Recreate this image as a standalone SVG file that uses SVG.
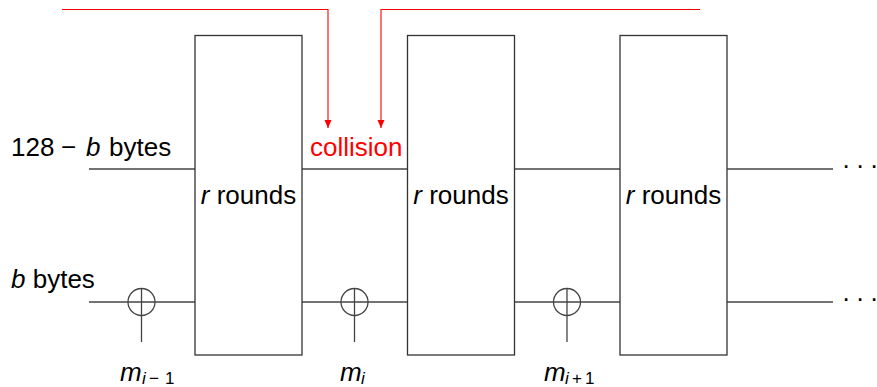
<svg xmlns="http://www.w3.org/2000/svg" width="877" height="387" viewBox="0 0 877 387">
<defs>
<style>
.ln{stroke:#444;stroke-width:1.3;fill:none}
.box{stroke:#333;stroke-width:1.3;fill:#fff}
.red{stroke:#f00;stroke-width:1.1;fill:none}
text{font-family:"Liberation Sans",Arial,sans-serif;font-size:26px;fill:#000}
.it{font-style:italic}
.sub{font-size:17px}
.rt{fill:#f00}
</style>
<marker id="ah" viewBox="0 0 8 10" refX="8" refY="5" markerWidth="8" markerHeight="10" markerUnits="userSpaceOnUse" orient="auto">
<path d="M0,1.5 L8,5 L0,8.5 z" fill="#f00"/>
</marker>
</defs>
<g id="connectors">
<line class="ln" x1="89" y1="169" x2="195" y2="169"/>
<line class="ln" x1="302" y1="169" x2="407" y2="169"/>
<line class="ln" x1="515" y1="169" x2="620" y2="169"/>
<line class="ln" x1="727" y1="169" x2="833" y2="169"/>
<line class="ln" x1="89" y1="302" x2="195" y2="302"/>
<line class="ln" x1="302" y1="302" x2="407" y2="302"/>
<line class="ln" x1="515" y1="302" x2="620" y2="302"/>
<line class="ln" x1="727" y1="302" x2="833" y2="302"/>
<line class="ln" x1="141.5" y1="288" x2="141.5" y2="342"/>
<line class="ln" x1="354.5" y1="288" x2="354.5" y2="342"/>
<line class="ln" x1="567" y1="288" x2="567" y2="342"/>
<polyline class="red" points="62,9.5 328,9.5 328,128" marker-end="url(#ah)"/>
<polyline class="red" points="700,9.5 381,9.5 381,128" marker-end="url(#ah)"/>
</g>
<g id="xor1"><circle class="ln" cx="141.5" cy="302" r="13.5"/></g>
<g id="xor2"><circle class="ln" cx="354.5" cy="302" r="13.5"/></g>
<g id="xor3"><circle class="ln" cx="567" cy="302" r="13.5"/></g>
<g id="box1"><rect class="box" x="195" y="35.5" width="107" height="319.5"/><text x="248.5" y="204" text-anchor="middle"><tspan class="it">r</tspan> rounds</text></g>
<g id="box2"><rect class="box" x="407.5" y="35.5" width="107" height="319.5"/><text x="461" y="204" text-anchor="middle"><tspan class="it">r</tspan> rounds</text></g>
<g id="box3"><rect class="box" x="620" y="35.5" width="107" height="319.5"/><text x="673.5" y="204" text-anchor="middle"><tspan class="it">r</tspan> rounds</text></g>
<g id="labels">
<text y="156"><tspan x="11">128</tspan><tspan x="61">−</tspan><tspan x="86" class="it">b</tspan><tspan x="109">bytes</tspan></text>
<text x="11" y="288"><tspan class="it">b</tspan> bytes</text>
<text class="rt" x="310" y="156">collision</text>
<text x="846" y="168" text-anchor="middle">.</text>
<text x="860" y="168" text-anchor="middle">.</text>
<text x="874" y="168" text-anchor="middle">.</text>
<text x="846" y="301" text-anchor="middle">.</text>
<text x="860" y="301" text-anchor="middle">.</text>
<text x="874" y="301" text-anchor="middle">.</text>
<text y="381"><tspan x="120" class="it">m</tspan><tspan x="142" class="sub it" dy="3">i</tspan><tspan x="149" class="sub">−</tspan><tspan x="165" class="sub">1</tspan></text>
<text y="381"><tspan x="340" class="it">m</tspan><tspan x="361" class="sub it" dy="3">i</tspan></text>
<text y="381"><tspan x="544" class="it">m</tspan><tspan x="565" class="sub it" dy="3">i</tspan><tspan x="572" class="sub">+</tspan><tspan x="585" class="sub">1</tspan></text>
</g>
</svg>
